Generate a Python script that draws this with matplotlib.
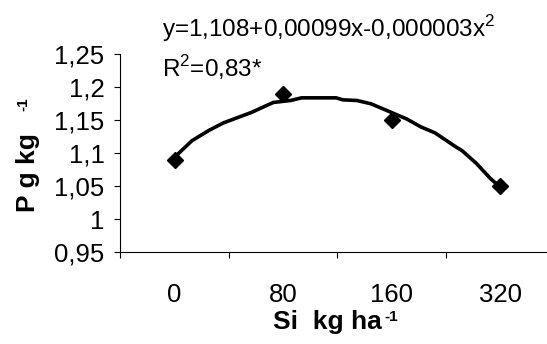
import matplotlib
matplotlib.use('Agg')
import matplotlib.pyplot as plt

plt.rcParams['font.family'] = ['Liberation Sans', 'DejaVu Sans']
plt.rcParams['mathtext.fontset'] = 'custom'
plt.rcParams['mathtext.rm'] = 'Liberation Sans'

# dados
doses = ['0', '80', '160', '320']
p_obs = [1.09, 1.19, 1.15, 1.05]

# curva ajustada (posição em categorias)
curva_x = [0.0, 0.16, 0.32, 0.45, 0.71, 0.91, 1.07, 1.17, 1.49, 1.55, 1.68,
           1.81, 1.94, 2.14, 2.27, 2.40, 2.59, 2.65, 2.78, 2.91, 3.0]
curva_y = [1.094, 1.119, 1.135, 1.146, 1.162, 1.177, 1.180, 1.184, 1.184, 1.181, 1.180,
           1.175, 1.166, 1.152, 1.140, 1.131, 1.110, 1.104, 1.085, 1.062, 1.049]

yticks = [0.95, 1.0, 1.05, 1.1, 1.15, 1.2, 1.25]
ytick_labels = ['0,95', '1', '1,05', '1,1', '1,15', '1,2', '1,25']

fig = plt.figure(figsize=(5.47, 3.44), dpi=100)
ax = fig.add_axes([0.2199, 0.2666, 0.7934, 0.5756])

ax.plot(curva_x, curva_y, color='black', lw=2.6, solid_joinstyle='round')
ax.plot(range(len(doses)), p_obs, 'kD', ms=8)

ax.set_xlim(-0.5, 3.5)
ax.set_ylim(0.95, 1.25)
ax.set_yticks(yticks)
ax.set_yticklabels(ytick_labels)
ax.set_xticks(range(len(doses)))
ax.set_xticklabels(doses)
ax.set_xticks([-0.5, 0.5, 1.5, 2.5], minor=True)

ax.tick_params(axis='y', direction='out', length=4.3, width=0.8, pad=7, labelsize=18.5)
ax.tick_params(axis='x', which='major', length=0, pad=22, labelsize=18.5)
ax.tick_params(axis='x', which='minor', direction='out', length=4.3, width=0.8)

for s in ['top', 'right']:
    ax.spines[s].set_visible(False)
for s in ['left', 'bottom']:
    ax.spines[s].set_linewidth(0.8)

# rótulos dos eixos com expoente
ylab = fig.text(0.051, 0.497, 'P g kg', rotation=90, ha='center', va='center',
                fontsize=19, fontweight='bold')
ax.annotate('-1', xy=(0, 1), xycoords=ylab, xytext=(0, 16), textcoords='offset points',
            rotation=90, ha='left', va='bottom', fontsize=11, fontweight='bold')

xlab = fig.text(0.598, 0.045, 'Si  kg ha', ha='center', va='baseline',
                fontsize=19, fontweight='bold')
ax.annotate('-1', xy=(1, 1), xycoords=xlab, xytext=(2, 0), textcoords='offset points',
            ha='left', va='top', fontsize=11, fontweight='bold')

fig.text(0.297, 0.894, r'y=1,108+0,00099x-0,000003x$^2$', ha='left', va='baseline', fontsize=17.5)
fig.text(0.297, 0.776, r'R$^2$=0,83*', ha='left', va='baseline', fontsize=17.5)

fig.savefig('out.png', dpi=100)
